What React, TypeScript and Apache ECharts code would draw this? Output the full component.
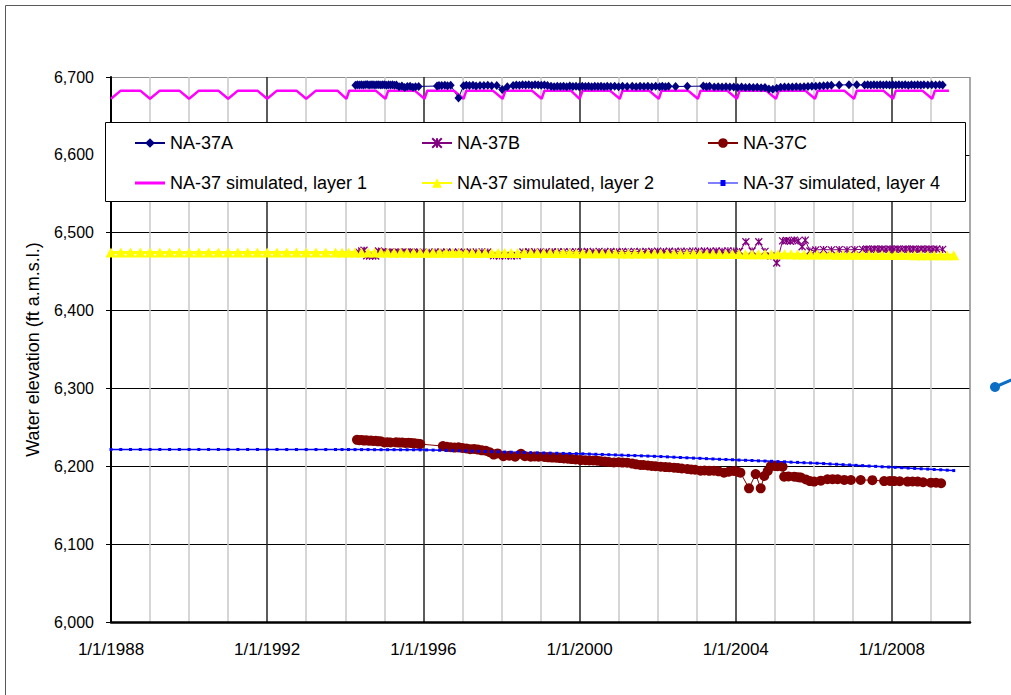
import React, { useEffect, useRef } from "react";
import * as echarts from "echarts";

const FONT = "'Liberation Sans', Arial, sans-serif";

// Observed NA-37A [decimal year, ft]
const naA: [number, number][] = [
  [1994.26, 6689.5], [1994.31, 6690], [1994.36, 6689.8], [1994.41, 6690.2], [1994.46, 6689.6], [1994.51, 6690],
  [1994.56, 6690.3], [1994.61, 6689.8], [1994.66, 6690], [1994.71, 6690.2], [1994.76, 6689.7], [1994.81, 6690],
  [1994.86, 6690.1], [1994.91, 6689.6], [1994.96, 6689.9], [1995.01, 6690.2], [1995.06, 6689.5], [1995.11, 6690],
  [1995.16, 6689.7], [1995.21, 6689.9], [1995.26, 6689.4], [1995.31, 6689.6],
  [1995.38, 6687.5], [1995.45, 6688.3], [1995.52, 6686.5], [1995.59, 6687.8], [1995.66, 6688], [1995.73, 6686.8],
  [1995.8, 6687.6], [1995.88, 6687.9], [1996.35, 6688.4],
  [1996.4, 6689.2], [1996.47, 6689], [1996.55, 6689.5], [1996.62, 6688.8], [1996.7, 6689.3], [1996.9, 6673],
  [1997.03, 6688.8], [1997.1, 6689.4], [1997.18, 6689], [1997.27, 6689.5], [1997.35, 6688.6], [1997.45, 6689.2],
  [1997.55, 6689], [1997.65, 6689.5], [1997.75, 6688.8], [1997.88, 6689.2], [1998.02, 6684], [1998.15, 6687.5],
  [1998.3, 6689.2], [1998.38, 6689.8], [1998.46, 6689.4], [1998.54, 6690], [1998.62, 6689.6], [1998.7, 6689.9],
  [1998.78, 6689.5], [1998.86, 6690], [1998.94, 6689.7], [1999.02, 6689.3], [1999.1, 6689.6], [1999.18, 6689.2],
  [1999.27, 6688], [1999.35, 6687.6], [1999.43, 6688.2], [1999.51, 6687.8], [1999.59, 6688], [1999.67, 6687.5],
  [1999.75, 6688.3], [1999.83, 6687.8], [1999.91, 6688], [1999.99, 6687.6], [2000.07, 6688.2], [2000.15, 6687.7],
  [2000.23, 6688], [2000.31, 6687.5], [2000.39, 6688.1], [2000.47, 6687.7], [2000.55, 6688], [2000.63, 6687.6],
  [2000.71, 6688.2], [2000.8, 6687.8], [2000.9, 6688], [2001.0, 6687.6], [2001.1, 6688.1], [2001.22, 6687.9],
  [2001.35, 6688], [2001.45, 6687.5], [2001.55, 6688.2], [2001.65, 6687.7], [2001.75, 6688], [2001.85, 6687.5],
  [2001.95, 6688.2], [2002.05, 6687.6], [2002.12, 6688], [2002.2, 6687.4], [2002.28, 6688], [2002.46, 6687.8],
  [2002.76, 6688], [2003.17, 6688.3], [2003.25, 6687.6], [2003.33, 6688], [2003.45, 6687.2], [2003.55, 6687.5],
  [2003.65, 6687], [2003.75, 6687.4], [2003.85, 6687], [2003.95, 6687.3], [2004.05, 6686.6], [2004.15, 6687],
  [2004.25, 6686.5], [2004.35, 6686.8], [2004.45, 6686.4], [2004.55, 6686.8], [2004.65, 6686.3], [2004.75, 6686.6],
  [2004.85, 6684.5], [2004.95, 6684.3], [2005.05, 6685.5], [2005.15, 6686.8], [2005.25, 6687], [2005.35, 6687.3],
  [2005.45, 6687], [2005.55, 6687.5], [2005.65, 6687.2], [2005.75, 6687.6], [2005.85, 6687.8], [2005.95, 6688],
  [2006.05, 6688.2], [2006.15, 6688.5], [2006.25, 6688.8], [2006.35, 6689], [2006.45, 6689.3], [2006.65, 6689.8],
  [2006.9, 6690], [2007.1, 6690], [2007.3, 6689.6], [2007.38, 6690], [2007.46, 6689.8], [2007.54, 6690.2],
  [2007.62, 6689.7], [2007.7, 6690], [2007.78, 6689.6], [2007.86, 6690.1], [2007.94, 6689.8], [2008.02, 6690.2],
  [2008.1, 6689.6], [2008.18, 6690], [2008.26, 6689.7], [2008.34, 6690], [2008.42, 6689.5], [2008.5, 6690],
  [2008.58, 6689.8], [2008.66, 6690.1], [2008.74, 6689.6], [2008.82, 6690], [2008.92, 6689.8], [2009.02, 6690],
  [2009.12, 6689.6], [2009.22, 6690], [2009.3, 6689.7],
];

// Observed NA-37B
const naB: [number, number][] = [
  [1994.35, 6475], [1994.42, 6476.5], [1994.48, 6477.5], [1994.55, 6470.5], [1994.62, 6470], [1994.7, 6470.5],
  [1994.78, 6470], [1994.85, 6476.5], [1994.95, 6475.5], [1995.05, 6475], [1995.15, 6475.3], [1995.25, 6475],
  [1995.35, 6475.3], [1995.45, 6475], [1995.55, 6475.3], [1995.65, 6475], [1995.75, 6475.3], [1995.85, 6475],
  [1996.0, 6475.2], [1996.15, 6475], [1996.3, 6475.3], [1996.45, 6475], [1996.6, 6475.3], [1996.75, 6475],
  [1996.9, 6475.3], [1997.05, 6475], [1997.2, 6475.3], [1997.35, 6475.1], [1997.5, 6475.4], [1997.65, 6475.2],
  [1997.8, 6470.5], [1997.95, 6470], [1998.1, 6470.5], [1998.25, 6470], [1998.4, 6470.5], [1998.55, 6475.3],
  [1998.7, 6475.5], [1998.85, 6475.3], [1999.0, 6475.6], [1999.15, 6475.3], [1999.3, 6475.6], [1999.45, 6475.4],
  [1999.6, 6475.7], [1999.75, 6475.4], [1999.9, 6475.7], [2000.05, 6475.5], [2000.2, 6475.8], [2000.35, 6475.5],
  [2000.5, 6475.8], [2000.65, 6475.6], [2000.8, 6475.9], [2000.95, 6475.6], [2001.1, 6475.9], [2001.25, 6475.7],
  [2001.4, 6476], [2001.55, 6475.7], [2001.7, 6476], [2001.85, 6475.8], [2002.0, 6476.1], [2002.15, 6475.8],
  [2002.3, 6476.2], [2002.45, 6476], [2002.6, 6476.3], [2002.75, 6476], [2002.9, 6476.4], [2003.05, 6476.1],
  [2003.2, 6476.5], [2003.35, 6476.2], [2003.5, 6476.6], [2003.65, 6476.3], [2003.8, 6476.7], [2003.95, 6476.4],
  [2004.1, 6476], [2004.26, 6488.5], [2004.42, 6476.5], [2004.59, 6488.5], [2004.75, 6476], [2004.9, 6470],
  [2005.05, 6461], [2005.2, 6489.5], [2005.3, 6490], [2005.4, 6489], [2005.5, 6490.5], [2005.6, 6489.5],
  [2005.7, 6482], [2005.78, 6490.5], [2005.9, 6476.5], [2006.05, 6478], [2006.25, 6478.3], [2006.45, 6478],
  [2006.65, 6478.3], [2006.85, 6478], [2007.05, 6478.3], [2007.25, 6478.6], [2007.35, 6479], [2007.45, 6478.6],
  [2007.55, 6479.1], [2007.65, 6478.7], [2007.75, 6479], [2007.85, 6478.6], [2007.95, 6479.1], [2008.05, 6478.7],
  [2008.15, 6479], [2008.25, 6478.6], [2008.35, 6479.1], [2008.45, 6478.8], [2008.55, 6479], [2008.65, 6478.6],
  [2008.75, 6479], [2008.85, 6478.7], [2008.95, 6479], [2009.05, 6478.6], [2009.15, 6479], [2009.3, 6478.6],
];

// Observed NA-37C
const naC: [number, number][] = [
  [1994.3, 6234], [1994.36, 6233.5], [1994.42, 6233.8], [1994.48, 6233], [1994.54, 6233.4], [1994.6, 6232.8],
  [1994.66, 6233], [1994.72, 6232.5], [1994.78, 6232.8], [1994.84, 6232], [1994.9, 6232.3], [1995.0, 6230.5],
  [1995.08, 6231], [1995.16, 6230.5], [1995.3, 6230.8], [1995.38, 6230.4], [1995.46, 6230.6], [1995.54, 6230],
  [1995.62, 6230.3], [1995.7, 6229.8], [1995.78, 6229.5], [1995.86, 6229], [1995.92, 6228.5],
  [1996.5, 6226], [1996.6, 6225], [1996.7, 6224.5], [1996.8, 6224], [1996.9, 6224.3], [1997.0, 6223.5],
  [1997.1, 6223], [1997.2, 6222], [1997.3, 6222.3], [1997.4, 6221.5], [1997.5, 6220.5], [1997.6, 6220],
  [1997.7, 6218], [1997.8, 6215], [1997.9, 6216.5], [1998.05, 6213], [1998.2, 6213.5], [1998.35, 6212.4],
  [1998.5, 6216], [1998.6, 6213], [1998.75, 6212.4], [1998.85, 6212.6], [1998.95, 6212.2], [1999.1, 6212],
  [1999.2, 6211.5], [1999.3, 6211.2], [1999.4, 6211], [1999.5, 6210.5], [1999.6, 6210], [1999.7, 6209.8],
  [1999.8, 6209.2], [1999.9, 6208.8], [2000.03, 6208], [2000.15, 6207.8], [2000.25, 6207.5], [2000.35, 6207.4],
  [2000.45, 6207.2], [2000.55, 6206.5], [2000.65, 6206], [2000.75, 6205.5], [2000.88, 6205], [2001.0, 6205.2],
  [2001.1, 6204.8], [2001.22, 6204.6], [2001.35, 6203.5], [2001.45, 6202.5], [2001.56, 6201.7], [2001.64, 6201.7],
  [2001.75, 6201], [2001.85, 6200.5], [2001.95, 6200], [2002.08, 6199.5], [2002.2, 6199], [2002.3, 6198.8],
  [2002.42, 6198.2], [2002.52, 6197.8], [2002.62, 6197.2], [2002.76, 6196.5], [2002.86, 6196], [2002.96, 6195.5],
  [2003.1, 6194.4], [2003.2, 6194.6], [2003.32, 6194.2], [2003.44, 6194.4], [2003.56, 6193.5], [2003.7, 6191.8],
  [2003.82, 6193], [2003.95, 6194], [2004.05, 6193], [2004.12, 6191.8], [2004.34, 6171.7], [2004.51, 6190],
  [2004.64, 6171.7], [2004.73, 6187.5], [2004.82, 6194], [2004.9, 6200.3], [2005.0, 6200.5], [2005.07, 6200],
  [2005.2, 6199.5], [2005.24, 6186.7], [2005.35, 6187], [2005.5, 6186.7], [2005.6, 6186], [2005.67, 6185.5],
  [2005.8, 6183], [2005.9, 6181], [2006.01, 6180.3], [2006.18, 6181.5], [2006.35, 6183.3], [2006.48, 6183.5],
  [2006.61, 6183.3], [2006.78, 6182.5], [2006.95, 6182.4], [2007.2, 6182.4], [2007.5, 6182.2], [2007.8, 6181],
  [2007.95, 6181.2], [2008.06, 6181], [2008.2, 6180.8], [2008.4, 6180.3], [2008.53, 6180.5], [2008.66, 6180.3],
  [2008.8, 6179.5], [2009.0, 6179], [2009.13, 6178.8], [2009.26, 6178.2],
];

// Simulated layer 1 [decimal year, ft]
const sim1: [number, number][] = [
  [1988.0, 6672], [1988.25, 6682.5], [1988.75, 6682.5],
  [1989.0, 6672], [1989.25, 6682.5], [1989.75, 6682.5],
  [1990.0, 6672], [1990.25, 6682.5], [1990.75, 6682.5],
  [1991.0, 6672], [1991.25, 6682.5], [1991.75, 6682.5],
  [1992.0, 6672], [1992.25, 6682.5], [1992.75, 6682.5],
  [1993.0, 6672], [1993.25, 6682.5], [1993.8, 6682.5],
  [1994.03, 6672], [1994.1, 6682.5], [1994.78, 6682.5],
  [1995.03, 6672], [1995.1, 6682.5], [1995.78, 6682.5],
  [1996.03, 6672], [1996.1, 6682.5], [1996.78, 6682.5],
  [1997.03, 6672], [1997.1, 6682.5], [1997.78, 6682.5],
  [1998.03, 6672], [1998.1, 6682.5], [1998.78, 6682.5],
  [1999.03, 6672], [1999.1, 6682.5], [1999.78, 6682.5],
  [2000.0, 6672], [2000.08, 6682.5], [2000.78, 6682.5],
  [2001.03, 6672], [2001.1, 6682.5], [2001.78, 6682.5],
  [2002.03, 6672], [2002.1, 6682.5], [2002.78, 6682.5],
  [2003.03, 6672], [2003.1, 6682.5], [2003.78, 6682.5],
  [2004.03, 6672], [2004.1, 6682.5], [2004.78, 6682.5],
  [2005.03, 6672], [2005.1, 6682.5], [2005.78, 6682.5],
  [2006.03, 6672], [2006.1, 6682.5], [2006.78, 6682.5],
  [2007.03, 6672], [2007.1, 6682.5], [2007.78, 6682.5],
  [2008.03, 6672], [2008.1, 6682.5], [2008.78, 6682.5],
  [2009.03, 6672], [2009.1, 6682.5], [2009.46, 6682.5],
];

// Simulated layers 2 and 4: quarterly output 1988.0 - 1993.5, then every two months from 1993.75
const earlyStart = 1988;
const earlyStep = 0.25;
const lateStart = 1993.75;
const lateStep = 1 / 6;

const sim2Early = [
  6474.5, 6474.5, 6474.5, 6474.5, 6474.5, 6474.5, 6474.5, 6474.5, 6474.5, 6474.5, 6474.5, 6474.5,
  6474.5, 6474.5, 6474.5, 6474.5, 6474.5, 6474.5, 6474.5, 6474.5, 6474.5, 6474.5, 6474.5,
];
const sim2Late = [
  6474.6, 6474.6, 6474.5, 6474.6, 6474.5, 6474.5, 6474.6, 6474.5, 6474.5, 6474.4, 6474.5, 6474.4,
  6474.4, 6474.4, 6474.3, 6474.4, 6474.3, 6474.3, 6474.2, 6474.3, 6474.2, 6474.2, 6474.1, 6474.2,
  6474.1, 6474.1, 6474.0, 6474.1, 6474.0, 6474.0, 6473.9, 6474.0, 6473.9, 6473.9, 6473.8, 6473.8,
  6473.8, 6473.7, 6473.7, 6473.6, 6473.6, 6473.6, 6473.5, 6473.5, 6473.4, 6473.4, 6473.4, 6473.3,
  6473.3, 6473.2, 6473.2, 6473.1, 6473.1, 6473.0, 6473.0, 6472.9, 6472.9, 6472.8, 6472.8, 6472.7,
  6472.7, 6472.6, 6472.6, 6472.5, 6472.5, 6472.4, 6472.4, 6472.3, 6472.3, 6472.2, 6472.2, 6472.1,
  6472.1, 6472.0, 6472.0, 6471.9, 6471.9, 6471.8, 6471.8, 6471.7, 6471.7, 6471.6, 6471.6, 6471.5,
  6471.5, 6471.4, 6471.4, 6471.3, 6471.3, 6471.2, 6471.2, 6471.1, 6471.1, 6471.0, 6471.0, 6470.9,
];
const sim4Early = [
  6221.6, 6221.6, 6221.6, 6221.6, 6221.6, 6221.6, 6221.6, 6221.6, 6221.6, 6221.6, 6221.6, 6221.6,
  6221.6, 6221.6, 6221.6, 6221.6, 6221.6, 6221.6, 6221.5, 6221.5, 6221.5, 6221.5, 6221.5,
];
const sim4Late = [
  6221.5, 6221.5, 6221.5, 6221.4, 6221.4, 6221.4, 6221.3, 6221.3, 6221.3, 6221.3, 6221.2, 6221.2,
  6221.2, 6221.1, 6221.0, 6220.8, 6220.6, 6220.4, 6220.2, 6220.0, 6219.8, 6219.5, 6219.3, 6219.0,
  6218.8, 6218.6, 6218.3, 6218.1, 6217.9, 6217.7, 6217.5, 6217.3, 6217.1, 6216.9, 6216.7, 6216.5,
  6216.3, 6216.2, 6216.0, 6215.7, 6215.4, 6215.2, 6214.9, 6214.6, 6214.3, 6214.0, 6213.7, 6213.4,
  6213.1, 6212.8, 6212.5, 6212.1, 6211.7, 6211.3, 6210.9, 6210.5, 6210.2, 6209.8, 6209.4, 6209.0,
  6208.7, 6208.4, 6208.0, 6207.7, 6207.4, 6207.0, 6206.7, 6206.4, 6206.0, 6205.7, 6205.3, 6205.0,
  6204.6, 6204.3, 6203.9, 6203.5, 6203.0, 6202.6, 6202.1, 6201.7, 6201.2, 6200.8, 6200.3, 6199.9,
  6199.4, 6199.0, 6198.6, 6198.2, 6197.7, 6197.3, 6196.8, 6196.4, 6195.9, 6195.5, 6195.0, 6194.5,
];

const seriesNames = [
  "NA-37A",
  "NA-37B",
  "NA-37C",
  "NA-37 simulated, layer 1",
  "NA-37 simulated, layer 2",
  "NA-37 simulated, layer 4",
];

const xMin = 1988;
const xMax = 2010;
const yMin = 6000;
const yMax = 6700;

function regular(early: number[], late: number[]): [number, number][] {
  const out: [number, number][] = [];
  early.forEach((v, i) => out.push([earlyStart + i * earlyStep, v]));
  late.forEach((v, i) => out.push([lateStart + i * lateStep, v]));
  return out;
}

const STAR = "path://M0,0L10,10M10,0L0,10M5,0L5,10";

export default function App() {
  const ref = useRef<HTMLDivElement>(null);
  useEffect(() => {
    if (!ref.current) return;
    const chart = echarts.init(ref.current, undefined, { renderer: "svg" });

    const xSplitColors: string[] = [];
    for (let y = xMin; y <= xMax; y++) {
      if (y === xMax) xSplitColors.push("#8c8c8c");
      else if ((y - xMin) % 4 === 0) xSplitColors.push("#262626");
      else xSplitColors.push("#c8c8c8");
    }
    const ySplitColors: string[] = [];
    for (let v = yMin; v <= yMax; v += 100) {
      ySplitColors.push(v === yMax ? "#8c8c8c" : "#000000");
    }

    const legendText = { fontSize: 18, color: "#000", fontFamily: FONT };
    const legendCommon = {
      orient: "vertical" as const,
      top: 134,
      itemWidth: 30,
      itemHeight: 12,
      itemGap: 22,
      padding: 0,
      selectedMode: false,
      textStyle: legendText,
      z: 10,
    };

    chart.setOption({
      animation: false,
      textStyle: { fontFamily: FONT },
      grid: { left: 111, right: 41, top: 77, bottom: 73, containLabel: false },
      xAxis: {
        type: "value",
        min: xMin,
        max: xMax,
        interval: 1,
        axisLine: { show: true, lineStyle: { color: "#000", width: 2.5 } },
        axisTick: { show: false },
        axisLabel: {
          fontSize: 17,
          color: "#000",
          fontFamily: FONT,
          margin: 19,
          formatter: (v: number) =>
            (v - xMin) % 4 === 0 && v < xMax ? `1/1/${v}` : "",
        },
        splitLine: { show: true, lineStyle: { color: xSplitColors, width: 1.5 } },
      },
      yAxis: {
        type: "value",
        min: yMin,
        max: yMax,
        interval: 100,
        name: "Water elevation (ft a.m.s.l.)",
        nameLocation: "middle",
        nameGap: 69,
        nameTextStyle: { fontSize: 18, color: "#000", fontFamily: FONT },
        axisLine: { show: true, lineStyle: { color: "#000", width: 2 } },
        axisTick: { show: true, length: 5, lineStyle: { color: "#000", width: 1 } },
        axisLabel: {
          fontSize: 16,
          color: "#000",
          fontFamily: FONT,
          margin: 17,
          formatter: (v: number) => v.toLocaleString("en-US"),
        },
        splitLine: { show: true, lineStyle: { color: ySplitColors, width: 1 } },
      },
      legend: [
        {
          ...legendCommon,
          left: 134,
          data: [
            seriesNames[0],
            { name: seriesNames[3], icon: "path://M0,0L30,0L30,3L0,3Z" },
          ],
        },
        {
          ...legendCommon,
          left: 421,
          data: [seriesNames[1], seriesNames[4]],
        },
        {
          ...legendCommon,
          left: 707,
          data: [
            seriesNames[2],
            { name: seriesNames[5], icon: "path://M0,2.5L12.5,2.5L12.5,0L17.5,0L17.5,2.5L30,2.5L30,3.5L17.5,3.5L17.5,6L12.5,6L12.5,3.5L0,3.5Z" },
          ],
        },
      ],
      graphic: [
        {
          type: "rect",
          z: 0,
          silent: true,
          shape: { x: 5.5, y: 5.5, width: 1100, height: 800 },
          style: { fill: "none", stroke: "#595959", lineWidth: 1 },
        },
        {
          type: "rect",
          z: 3,
          silent: true,
          shape: { x: 105.5, y: 122.5, width: 860, height: 79 },
          style: { fill: "#ffffff", stroke: "#000000", lineWidth: 1 },
        },
        {
          type: "line",
          z: 3,
          silent: true,
          shape: { x1: 995, y1: 387, x2: 1016, y2: 378 },
          style: { stroke: "#0a6fc4", lineWidth: 3 },
        },
        {
          type: "circle",
          z: 3,
          silent: true,
          shape: { cx: 995, cy: 387, r: 5 },
          style: { fill: "#0a6fc4" },
        },
      ],
      series: [
        {
          name: seriesNames[0],
          type: "line",
          data: naA,
          symbol: "diamond",
          symbolSize: [8, 9],
          lineStyle: { color: "#000080", width: 1 },
          itemStyle: { color: "#000080" },
          emphasis: { disabled: true },
        },
        {
          name: seriesNames[1],
          type: "line",
          data: naB,
          symbol: STAR,
          symbolSize: 7,
          lineStyle: { color: "#800080", width: 1 },
          itemStyle: { color: "#800080", borderColor: "#800080", borderWidth: 1.3 },
          emphasis: { disabled: true },
        },
        {
          name: seriesNames[2],
          type: "line",
          data: naC,
          symbol: "circle",
          symbolSize: 10,
          lineStyle: { color: "#800000", width: 1 },
          itemStyle: { color: "#800000" },
          emphasis: { disabled: true },
        },
        {
          name: seriesNames[3],
          type: "line",
          data: sim1,
          symbol: "none",
          lineStyle: { color: "#ff00ff", width: 2.5 },
          itemStyle: { color: "#ff00ff" },
          emphasis: { disabled: true },
        },
        {
          name: seriesNames[4],
          type: "line",
          data: regular(sim2Early, sim2Late),
          symbol: "triangle",
          symbolSize: [11, 10],
          lineStyle: { color: "#ffff00", width: 3 },
          itemStyle: { color: "#ffff00" },
          emphasis: { disabled: true },
        },
        {
          name: seriesNames[5],
          type: "line",
          data: regular(sim4Early, sim4Late),
          symbol: "rect",
          symbolSize: 3,
          lineStyle: { color: "#0000ff", width: 1.5 },
          itemStyle: { color: "#0000ff" },
          emphasis: { disabled: true },
        },
      ],
    });
    return () => chart.dispose();
  }, []);

  return (
    <div
      ref={ref}
      style={{ position: "absolute", left: 0, top: 0, width: 1011, height: 695, background: "#fff" }}
    />
  );
}
